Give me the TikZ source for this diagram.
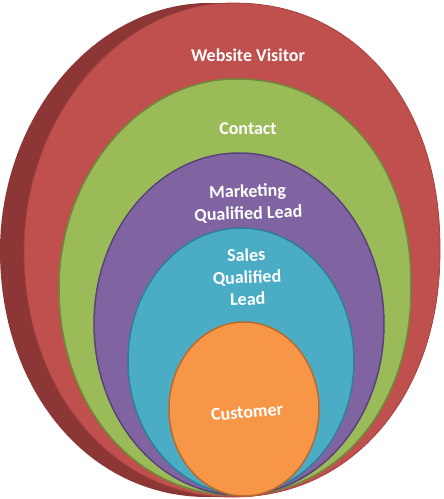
\documentclass[tikz,border=0pt]{standalone}
\usepackage{fontspec}
\setmainfont{Carlito}
\definecolor{redF}{HTML}{C0504D}
\definecolor{redS}{HTML}{8C3735}
\definecolor{redB}{HTML}{A5413F}
\definecolor{greenF}{HTML}{9BBB59}
\definecolor{greenB}{HTML}{6E8A3A}
\definecolor{purpleF}{HTML}{8064A2}
\definecolor{purpleB}{HTML}{5A437A}
\definecolor{cyanF}{HTML}{4BACC6}
\definecolor{cyanB}{HTML}{2F7F96}
\definecolor{orangeF}{HTML}{F79646}
\definecolor{orangeB}{HTML}{B96A2C}
\tikzset{
  lbl/.style={text=white, font=\fontsize{18}{22}\selectfont\bfseries, align=center},
  ring/.style={line width=1.5pt},
  disc/.style n args={4}{insert path={
    plot[domain=0.2:89.8, samples=40, variable=\t] ({#1+#3*pow(cos(\t),0.93)}, {#2-#4*pow(sin(\t),0.93)})
    -- plot[domain=90.2:179.8, samples=40, variable=\t] ({#1-#3*pow(-cos(\t),1.02)}, {#2-#4*pow(sin(\t),1.02)})
    -- plot[domain=180.2:269.8, samples=40, variable=\t] ({#1-#3*pow(-cos(\t),0.97)}, {#2+#4*pow(-sin(\t),0.97)})
    -- plot[domain=270.2:359.8, samples=40, variable=\t] ({#1+#3*pow(cos(\t),0.95)}, {#2+#4*pow(-sin(\t),0.95)})
    -- cycle}}
}
\begin{document}
\begin{tikzpicture}[x=1pt,y=-1pt]
\useasboundingbox (0,0) rectangle (444,499);
% side (extrusion) of the outer disc
\fill[redS, disc={208}{250}{208}{247}];
\fill[redS] (208,3) rectangle (232,497);
% front faces
\filldraw[fill=redF, draw=redB, line width=0.8pt, disc={232}{250}{208}{247}];
\filldraw[ring, fill=greenF, draw=greenB, disc={235}{287}{176}{208}];
\filldraw[ring, fill=purpleF, draw=purpleB] (239,324) ellipse [x radius=145pt, y radius=171pt];
\filldraw[ring, fill=cyanF, draw=cyanB] (241,361) ellipse [x radius=113pt, y radius=133pt];
\filldraw[ring, fill=orangeF, draw=orangeB] (244,409) ellipse [x radius=75pt, y radius=87pt];
% labels
\node[lbl] (visitor) at (248,55) {Website Visitor};
\node[lbl] (contact) at (248,129) {Contact};
\node[lbl, rotate=2] (mql) at (248,203) {Marketing\\Qualified Lead};
\node[lbl, rotate=2] (sql) at (247,277) {Sales\\Qualified\\Lead};
\node[lbl, rotate=5] (customer) at (247,412) {Customer};
\end{tikzpicture}
\end{document}
